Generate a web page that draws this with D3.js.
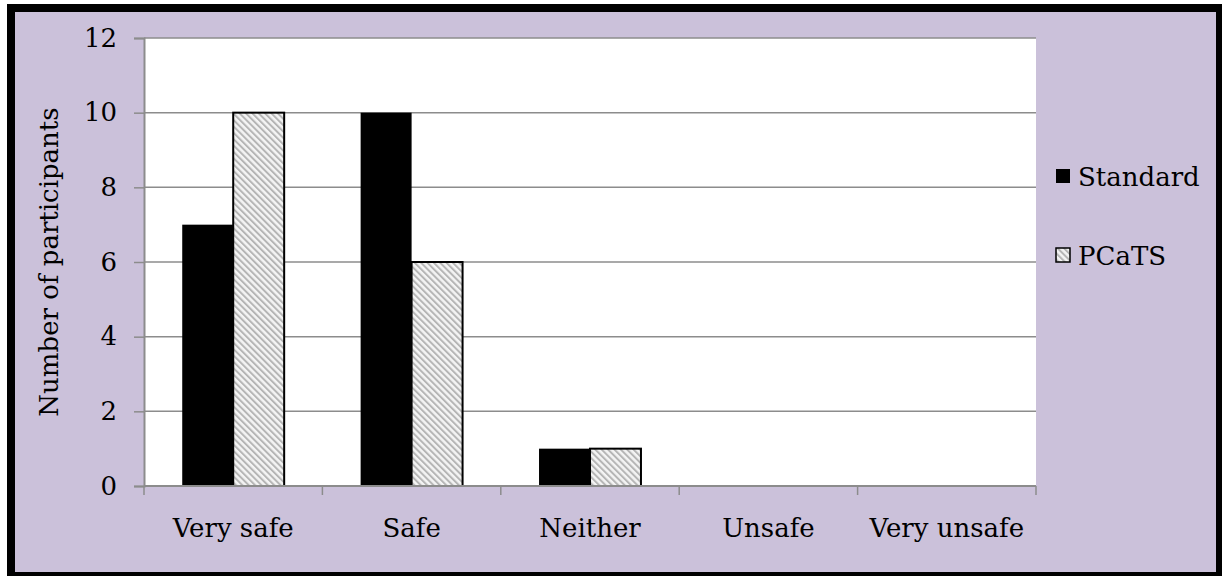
<!DOCTYPE html>
<html>
<head>
<meta charset="utf-8">
<script src="https://cdn.jsdelivr.net/npm/d3@7"></script>
<style>
  body { margin: 0; background: #fff; }
  svg { display: block; font-family: "DejaVu Serif", serif; }
</style>
</head>
<body>
<div id="chart"></div>
<script>
const categories = ['Very safe', 'Safe', 'Neither', 'Unsafe', 'Very unsafe'];
const seriesNames = ['Standard', 'PCaTS'];
const standardValues = [7, 10, 1, 0, 0];
const pcatsValues = [10, 6, 1, 0, 0];
const yTicks = [0, 2, 4, 6, 8, 10, 12];

const W = 1222, H = 576;
const plot = {left: 144, top: 38, right: 1036, bottom: 486};
const fs = 26;

let svg = d3.select('#chart').append('svg')
  .attr('width', W)
  .attr('height', H);

// hatch for the PCaTS bars
let defs = svg.append('defs');
let pat = defs.append('pattern')
  .attr('id', 'hatch')
  .attr('patternUnits', 'userSpaceOnUse')
  .attr('width', 4.5)
  .attr('height', 4.5)
  .attr('patternTransform', 'rotate(-45)');
pat.append('rect').attr('width', 4.5).attr('height', 4.5).attr('fill', '#f4f4f4');
pat.append('rect').attr('x', 0).attr('width', 2).attr('height', 4.5).attr('fill', '#b5b5b5');

// frame
svg.append('rect').attr('x', 7).attr('y', 4).attr('width', W - 7).attr('height', H - 4).attr('fill', '#000');
svg.append('rect').attr('x', 15).attr('y', 12).attr('width', 1216 - 15).attr('height', 572 - 12).attr('fill', '#cbc1da');

svg.append('rect')
  .attr('x', plot.left).attr('y', plot.top)
  .attr('width', plot.right - plot.left)
  .attr('height', plot.bottom - plot.top)
  .attr('fill', '#fff');

let x0 = d3.scaleBand()
  .domain(categories)
  .range([plot.left, plot.right]);

let x1 = d3.scaleBand()
  .domain(seriesNames)
  .range([0, x0.bandwidth()])
  .paddingOuter(0.75);

let y = d3.scaleLinear()
  .domain([0, 12])
  .range([plot.bottom, plot.top]);

// grid
svg.append('g')
  .selectAll('line')
  .data(yTicks.filter(d => d > 0))
  .join('line')
  .attr('x1', plot.left).attr('x2', plot.right)
  .attr('y1', d => y(d)).attr('y2', d => y(d))
  .attr('stroke', '#8c8c8c')
  .attr('stroke-width', 1.5);

// y axis
let yAxis = svg.append('g')
  .attr('transform', `translate(${plot.left},0)`)
  .call(d3.axisLeft(y).tickValues(yTicks).tickSize(10).tickPadding(17));
yAxis.select('.domain').attr('stroke', '#8c8c8c').attr('stroke-width', 2);
yAxis.selectAll('.tick line').attr('stroke', '#8c8c8c').attr('stroke-width', 1.5);
yAxis.selectAll('.tick text')
  .attr('font-family', '"DejaVu Serif", serif')
  .attr('font-size', fs)
  .attr('fill', '#000');

// bars
let data = categories.map((c, i) => ({cat: c, values: [
  {key: 'Standard', v: standardValues[i]},
  {key: 'PCaTS', v: pcatsValues[i]}
]}));

let groups = svg.append('g')
  .selectAll('g')
  .data(data)
  .join('g')
  .attr('transform', d => `translate(${x0(d.cat)},0)`);

groups.selectAll('rect')
  .data(d => d.values.filter(e => e.v > 0))
  .join('rect')
  .attr('x', d => x1(d.key))
  .attr('y', d => y(d.v))
  .attr('width', x1.bandwidth())
  .attr('height', d => y(0) - y(d.v))
  .attr('fill', d => d.key === 'Standard' ? '#000' : 'url(#hatch)')
  .attr('stroke', '#000')
  .attr('stroke-width', d => d.key === 'Standard' ? 0 : 2);

// x axis
let xAxis = svg.append('g')
  .attr('transform', `translate(0,${plot.bottom})`)
  .call(d3.axisBottom(x0).tickSize(0));
xAxis.select('.domain').remove();
xAxis.append('line')
  .attr('x1', plot.left).attr('x2', plot.right)
  .attr('stroke', '#8c8c8c').attr('stroke-width', 2);
xAxis.selectAll('.sep')
  .data(d3.range(categories.length + 1))
  .join('line')
  .attr('class', 'sep')
  .attr('x1', i => plot.left + i * x0.bandwidth())
  .attr('x2', i => plot.left + i * x0.bandwidth())
  .attr('y1', 0).attr('y2', 9)
  .attr('stroke', '#8c8c8c').attr('stroke-width', 1.5);
xAxis.selectAll('.tick text')
  .attr('y', 51)
  .attr('dy', 0)
  .attr('font-family', '"DejaVu Serif", serif')
  .attr('font-size', fs)
  .attr('fill', '#000');

// y title
svg.append('text')
  .attr('transform', `translate(58,${(plot.top + plot.bottom) / 2}) rotate(-90)`)
  .attr('text-anchor', 'middle')
  .attr('font-size', fs)
  .text('Number of participants');

// legend
let legend = svg.append('g')
  .selectAll('g')
  .data(seriesNames)
  .join('g')
  .attr('transform', (d, i) => `translate(1056,${i === 0 ? 169 : 248})`);
legend.append('rect')
  .attr('width', 14).attr('height', 14)
  .attr('fill', d => d === 'Standard' ? '#000' : 'url(#hatch)')
  .attr('stroke', '#000')
  .attr('stroke-width', d => d === 'Standard' ? 0 : 1.5);
legend.append('text')
  .attr('x', 22)
  .attr('y', 17)
  .attr('font-size', fs)
  .text(d => d);
</script>
</body>
</html>
